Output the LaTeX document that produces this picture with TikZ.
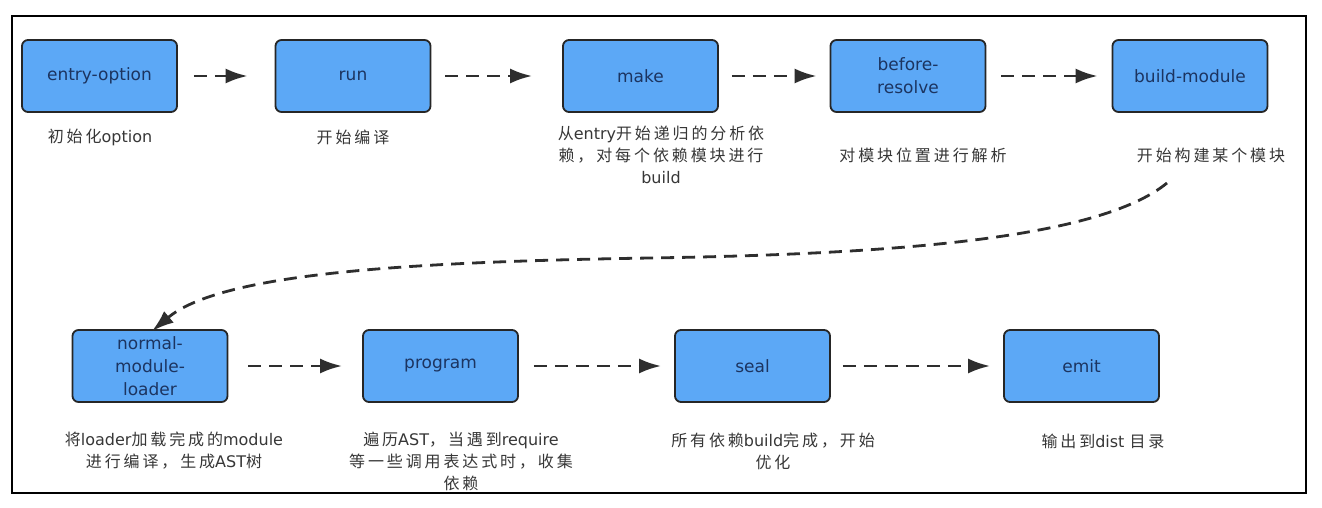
\documentclass[tikz,border=0pt]{standalone}
\usepackage{fontspec}
\setmainfont{DejaVu Sans}
\newfontfamily\cjkf[LetterSpace=18]{Noto Sans CJK SC}
\newcommand\zh[1]{{\cjkf #1}}
\usetikzlibrary{arrows.meta}
\definecolor{boxblue}{RGB}{92,168,246}
\definecolor{boxtext}{RGB}{28,52,96}
\definecolor{labeltext}{RGB}{55,55,55}
\tikzset{
  stagebox/.style={draw=black!85, fill=boxblue, line width=1.8pt, rounded corners=6pt,
    minimum width=155pt, minimum height=72pt, inner sep=0pt, text=boxtext,
    font=\fontsize{17}{23}\selectfont, align=center},
  desc/.style={text=labeltext, font=\fontsize{16}{22}\selectfont, align=center, inner sep=0pt},
  flow/.style={draw=black!82, line width=2.8pt, dash pattern=on 13pt off 8pt,
    -{Latex[length=22pt,width=15pt]}},
}
\begin{document}
\begin{tikzpicture}[x=1pt,y=-1pt]
\fill[white] (0,0) rectangle (1322,508);
\useasboundingbox (0,0) rectangle (1322,508);
\draw[line width=2pt] (12,16) rectangle (1306,493);

% top row
\node[stagebox] (eo)   at (99.5,76) {entry-option};
\node[stagebox] (run)  at (353,76) {run};
\node[stagebox] (make) at (640.5,76) {make};
\node[stagebox] (br)   at (908,76) {before-\\resolve};
\node[stagebox] (bm)   at (1190,76) {build-module};

% bottom row
\node[stagebox] (nml)  at (150,366) {normal-\\module-\\loader};
\node[stagebox] (prog) at (440.5,366) {program};
\node[stagebox] (seal) at (752.5,366) {seal};
\node[stagebox] (emit) at (1081.5,366) {emit};

% descriptions
\node[desc] (deo)   at (100,137) {\zh{初始化}option};
\node[desc] (drun)  at (353,137) {\zh{开始编译}};
\node[desc] (dmake) at (661,155) {\zh{从}entry\zh{开始递归的分析依}\\\zh{赖，对每个依赖模块进行}\\build};
\node[desc] (dbr)   at (923,155) {\zh{对模块位置进行解析}};
\node[desc] (dbm)   at (1211,155) {\zh{开始构建某个模块}};
\node[desc] (dnml)  at (174,451) {\zh{将}loader\zh{加载完成的}module\\\zh{进行编译，生成}AST\zh{树}};
\node[desc] (dprog) at (461,461) {\zh{遍历}AST\zh{，当遇到}require\\\zh{等一些调用表达式时，收集}\\\zh{依赖}};
\node[desc] (dseal) at (773,451) {\zh{所有依赖}build\zh{完成，开始}\\\zh{优化}};
\node[desc] (demit) at (1103,441) {\zh{输出到}dist \zh{目录}};

% arrows
\draw[flow, shorten <=16pt, shorten >=27pt] (eo.east) -- (run.west);
\draw[flow, shorten <=14pt, shorten >=30pt] (run.east) -- (make.west);
\draw[flow, shorten <=13pt, shorten >=13pt] (make.east) -- (br.west);
\draw[flow, shorten <=15pt, shorten >=14pt] (br.east) -- (bm.west);
\draw[flow, shorten <=20pt, shorten >=20pt] (nml.east) -- (prog.west);
\draw[flow, shorten <=15pt, shorten >=13pt] (prog.east) -- (seal.west);
\draw[flow, shorten <=12pt, shorten >=13pt] (seal.east) -- (emit.west);

\coordinate (cstart) at (1167,183);
\draw[flow] (cstart) .. controls (1100,238) and (900,254) .. (650,258)
  .. controls (400,262) and (220,274) .. ([xshift=2pt,yshift=-2pt]nml.north);
\end{tikzpicture}
\end{document}
